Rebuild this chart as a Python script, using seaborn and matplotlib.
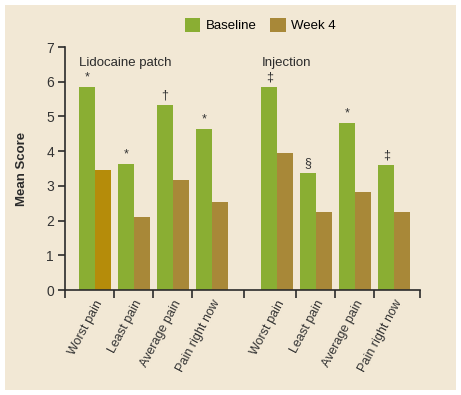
"""Mean pain scores at baseline and week 4, lidocaine patch vs injection."""

import matplotlib.pyplot as plt
import numpy as np
import pandas as pd
import seaborn as sns
from matplotlib.patches import Patch, Rectangle

# data
measures = ["Worst pain", "Least pain", "Average pain", "Pain right now"]
patch_baseline = [5.85, 3.63, 5.33, 4.64]
patch_week4 = [3.46, 2.10, 3.17, 2.54]
inj_baseline = [5.85, 3.37, 4.81, 3.60]
inj_week4 = [3.95, 2.25, 2.82, 2.25]
patch_marks = ["*", "*", "\u2020", "*"]
inj_marks = ["\u2021", "\u00a7", "*", "\u2021"]
group_names = ["Lidocaine patch", "Injection"]
series = ["Baseline", "Week 4"]

# bar slot positions (a wider gap between the two treatment groups)
positions = [0, 3, 6, 9, 14, 17, 20, 23]

GREEN = "#8aae33"
BROWN = "#a88838"
GOLD = "#b58c0a"
BG = "#f2e8d5"
INK = "#2b2b2b"

plt.rcParams["font.family"] = ["Liberation Sans", "DejaVu Sans"]

rows = []
base = patch_baseline + inj_baseline
wk4 = patch_week4 + inj_week4
for p, b, w in zip(positions, base, wk4):
    rows.append({"pos": p, "score": b, "when": series[0]})
    rows.append({"pos": p, "score": w, "when": series[1]})
df = pd.DataFrame(rows)

fig = plt.figure(figsize=(4.61, 3.95), dpi=100, facecolor="white")
fig.patches.append(Rectangle((5 / 461, 5 / 395), 451 / 461, 385 / 395,
                             transform=fig.transFigure, facecolor=BG,
                             edgecolor="none", zorder=-10))
ax = fig.add_axes([65 / 461, 105 / 395, 355 / 461, 243 / 395])
ax.set_facecolor("none")

sns.barplot(data=df, x="pos", y="score", hue="when", native_scale=True,
            palette=[GREEN, BROWN], saturation=1, width=0.8,
            legend=False, ax=ax)

# first week-4 bar is drawn in a deeper gold in the original
ax.containers[1][0].set_facecolor(GOLD)

# significance marks over the baseline bars
for bar, mark in zip(ax.containers[0], patch_marks + inj_marks):
    ax.text(bar.get_x() + bar.get_width() / 2, bar.get_height() + 0.1, mark,
            ha="center", va="bottom", fontsize=9, color="#333333")

# group titles
first_green = ax.containers[0]
for idx, name in zip([0, 4], group_names):
    ax.text(first_green[idx].get_x(), 6.55, name, ha="left", va="center",
            fontsize=9.5, color=INK)

ax.set_xlim(-2.3, 25)
ax.set_ylim(0, 7)
ax.set_yticks(range(8))
ax.set_xticks(positions)
ax.set_xticklabels(measures + measures, rotation=62, ha="right",
                   rotation_mode="anchor", fontsize=9, color="#333333")
bounds = [(a + b) / 2 for a, b in zip(positions[:-1], positions[1:])]
ax.set_xticks([-2.3] + bounds + [25], minor=True)
ax.tick_params(axis="x", which="major", length=0, pad=6)
ax.tick_params(axis="x", which="minor", length=6, width=1.2, color=INK)
ax.tick_params(axis="y", length=5, width=1.2, color=INK, labelsize=10,
               labelcolor="#333333", pad=3)
ax.set_xlabel("")
ax.set_ylabel("Mean Score", fontsize=9.5, fontweight="bold", color=INK,
              labelpad=13)
for side in ["top", "right"]:
    ax.spines[side].set_visible(False)
for side in ["left", "bottom"]:
    ax.spines[side].set_color(INK)
    ax.spines[side].set_linewidth(1.2)

handles = [Patch(facecolor=GREEN, edgecolor="none"),
           Patch(facecolor=BROWN, edgecolor="none")]
fig.legend(handles, series, loc="center", bbox_to_anchor=(260 / 461, 1 - 25 / 395),
           ncol=2, frameon=False, fontsize=9.5, handlelength=1.2,
           handleheight=1.3, handletextpad=0.4, columnspacing=1.0)

fig.savefig("out.png", dpi=100, facecolor="white")
plt.close(fig)
